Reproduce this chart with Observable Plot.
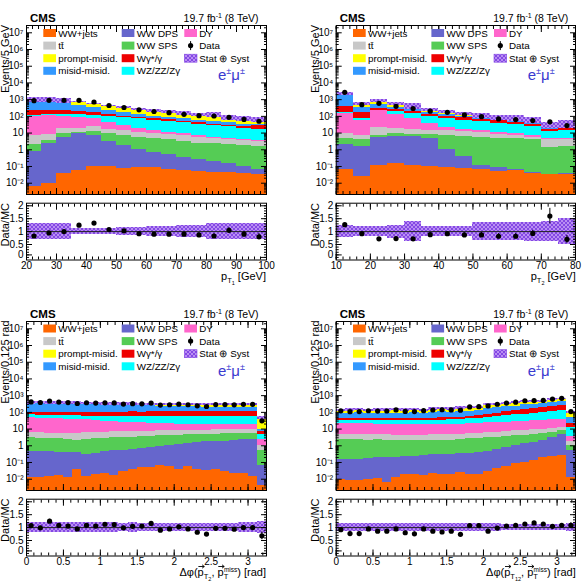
<!DOCTYPE html>
<html>
<head>
<meta charset="utf-8">
<script src="https://cdn.jsdelivr.net/npm/d3@7"></script>
<script src="https://cdn.jsdelivr.net/npm/@observablehq/plot@0.6"></script>
<style>
  body { margin: 0; background: #fff; }
  #root { position: relative; width: 588px; height: 583px; overflow: hidden; font-family: "Liberation Sans", Arial, sans-serif; }
  #root svg { position: absolute; }
</style>
</head>
<body>
<div id="root"></div>
<script>
// ---------------- categories / legend ----------------
const layerKeys   = ["wwjets", "dps", "sps", "tt", "dy", "wz", "wg", "misid", "prompt"];
const layerNames  = ["WW+jets", "WW DPS", "WW SPS", "tt\u0304", "DY", "WZ/ZZ/Z\u03b3", "W\u03b3*/\u03b3", "misid-misid.", "prompt-misid."];
const layerColors = ["#ff6600", "#6666cc", "#55cc55", "#c8c8c8", "#ff66cc", "#00ffff", "#ee0000", "#3399ff", "#ffff00"];

// ---------------- panel 1 : pT1 ----------------
const pt1Edges   = [20,25,30,35,40,45,50,55,60,65,70,75,80,85,90,95,100];
const pt1WWjets  = [0.0063,0.009,0.037,0.06,0.1,0.095,0.072,0.083,0.083,0.066,0.06,0.051,0.045,0.041,0.037,0.032];
const pt1DPS     = [0.75,2.4,5.7,10,6.6,3.1,1.7,1.0,0.6,0.47,0.28,0.22,0.15,0.11,0.07,0.035];
const pt1SPS     = [1.2,1.1,3.4,1.5,6,6,5.5,4.65,3.8,3.35,2.75,2.2,2.05,1.8,1.63,1.45];
const pt1TT      = [5.3,4.4,9.5,8.5,10.8,6.7,7.3,5.7,5.5,4.4,4.1,3.3,2.7,2.1,1.8,1.6];
const pt1DY      = [88,102,77,71,52,27,15,7.1,4.5,3.2,1.9,1.5,0.85,0.8,0.55,0.45];
const pt1WZ      = [15,16,36,41,44,53,53.5,57,45.5,35,31.6,25,21,18.5,14.5,12.3];
const pt1Wg      = [104,98,82,63,46,25,22,15,16,16,10.6,10.6,7,6,4.8,13.7];
const pt1Misid   = [676,570,361,252,189,94,61,41,29,24,25,17.5,13,11,8.6,4.4];
const pt1Prompt  = [160,160,337,277,195,203,165,137,114,99,72,66,79,42,42,31];
const pt1Data    = [870,910,910,910,725,447,339,245,195,166,132,110,105,87,66,51];
const pt1Ratio   = [0.83,0.95,1.0,1.25,1.33,1.08,1.03,0.92,0.9,0.9,0.9,0.87,0.83,1.05,0.9,0.8];
const pt1RatioErr= [0.03,0.03,0.03,0.04,0.04,0.05,0.05,0.06,0.06,0.07,0.07,0.08,0.08,0.1,0.1,0.12];
const pt1Unc     = [0.32,0.32,0.32,0.12,0.12,0.12,0.16,0.16,0.2,0.2,0.24,0.24,0.3,0.3,0.3,0.3];
const pt1Ticks   = [20,30,40,50,60,70,80,90,100];

// ---------------- panel 2 : pT2 ----------------
const pt2Edges   = [10,15,20,25,30,35,40,45,50,55,60,65,70,75,80];
const pt2WWjets  = [0.066,0.025,0.12,0.15,0.12,0.105,0.087,0.076,0.066,0.049,0.06,0.039,0.032,0.035];
const pt2DPS     = [2.1,1.6,5.5,6,5.9,4.9,0.9,0.3,0.054,0.04,0.005,0.003,0.002,0.002];
const pt2SPS     = [2.3,2.3,2,2.7,2.7,2.9,5.9,5.6,5.5,4.9,4.8,3.9,1.4,1.5];
const pt2TT      = [5,3.7,13.4,11,8.3,7.1,6.9,6.6,5.4,3.7,2.7,1.7,2.5,2.5];
const pt2DY      = [140,50,200,112,59,22,7.2,4.4,2.8,2.3,1.9,1.3,0.8,0.8];
const pt2WZ      = [10,18,10,54,69,58,55,43,35,28,24.5,18,8,9];
const pt2Wg      = [240,90,80,71,41,37,29,23,17,15,9,8,4,9];
const pt2Misid   = [1600,190,190,98,71,34,27,22,17,6,11,6,2,3];
const pt2Prompt  = [200,190,330,207,143,68,58,35,27,25,24,21,11,14];
const pt2Data    = [2750,500,600,400,295,205,175,122,96,70,64,56,47,28];
const pt2Ratio   = [1.27,0.92,0.72,0.73,0.72,0.88,0.92,0.87,0.87,0.82,0.82,0.93,1.6,0.7];
const pt2RatioErr= [0.04,0.05,0.05,0.05,0.05,0.06,0.07,0.08,0.09,0.1,0.1,0.12,0.3,0.15];
const pt2Unc     = [0.22,0.2,0.2,0.25,0.38,0.2,0.18,0.2,0.35,0.35,0.35,0.37,0.4,0.5];
const pt2Ticks   = [10,20,30,40,50,60,70,80];

// ---------------- panel 3 : dphi(pT2, MET) ----------------
const dphiEdges  = [0,0.125,0.25,0.375,0.5,0.625,0.75,0.875,1,1.125,1.25,1.375,1.5,1.625,1.75,1.875,2,2.125,2.25,2.375,2.5,2.625,2.75,2.875,3,3.125,3.25];
const dp1WWjets  = [0.012,0.013,0.014,0.016,0.012,0.037,0.014,0.019,0.021,0.016,0.03,0.037,0.047,0.047,0.066,0.06,0.037,0.06,0.037,0.034,0.037,0.03,0.021,0.023,0.014,0.0045];
const dp1DPS     = [0.45,0.42,0.44,0.4,0.36,0.34,0.3,0.35,0.42,0.48,0.5,0.6,0.66,0.75,0.9,1.0,1.2,1.4,1.5,1.7,1.8,1.9,2.1,2.3,2.4,0.06];
const dp1SPS     = [2.6,2.2,2.1,2.2,1.9,1.8,2.0,2.3,2.4,2.5,2.6,2.6,2.9,2.7,3.0,2.8,3.0,3.1,2.9,3.2,3.0,3.3,3.1,3.2,3.0,0.44];
const dp1TT      = [3.5,3.7,3.2,3.0,3.2,3.4,3.8,3.6,3.4,3.7,3.9,3.6,3.8,4.0,3.8,4.2,3.9,4.1,4.0,3.8,4.2,3.9,4.2,4.0,4.3,0.5];
const dp1DY      = [41,39,37,36,33,31,29,26,24,21,19,17.5,16,14.5,13,12.5,11.5,11,10.5,10,10,9.5,9.8,9.2,9,1.5];
const dp1WZ      = [23,22,24,23,24,25,25,27,27,29,29,31,30,33,33,34,35,34,36,35,35,36,34,36,37,2.5];
const dp1Wg      = [25,26,26,29,30,33,36,38,40,45,46,50,50,53,54,55,57,57,59,58,60,59,61,60,61,2];
const dp1Misid   = [280,285,270,268,250,238,218,206,190,182,165,158,143,136,125,117,108,105,96,93,88,85,82,79,76,3];
const dp1Prompt  = [14,16,15,18,21,24,31,34,41,44,51,54,61,64,71,74,81,84,91,94,99,102,104,107,109,35];
const dp1Data    = [421,390,472,414,385,339,376,358,371,367,314,333,326,357,273,286,310,285,247,224,292,292,282,301,302,31];
const dp1Ratio   = [1.08,0.99,1.25,1.09,1.06,0.95,1.09,1.06,1.13,1.12,0.99,1.05,1.06,1.16,0.9,0.95,1.03,0.95,0.82,0.75,0.97,0.97,0.94,1.0,1.0,0.68];
const dp1RatioErr= [0.06,0.06,0.07,0.06,0.06,0.06,0.06,0.06,0.06,0.06,0.06,0.06,0.06,0.07,0.06,0.06,0.06,0.06,0.06,0.06,0.06,0.06,0.06,0.06,0.06,0.15];
const dp1Unc     = [0.2,0.19,0.2,0.19,0.19,0.18,0.19,0.18,0.18,0.18,0.17,0.18,0.17,0.17,0.17,0.16,0.17,0.16,0.17,0.16,0.17,0.17,0.17,0.18,0.18,0.22];

// ---------------- panel 4 : dphi(pT12, MET) ----------------
const dp2WWjets  = [0.009,0.008,0.008,0.009,0.011,0.006,0.012,0.02,0.018,0.016,0.022,0.02,0.018,0.025,0.02,0.018,0.03,0.045,0.06,0.09,0.1,0.13,0.2,0.24,0.28,0.012];
const dp2DPS     = [0.15,0.14,0.15,0.17,0.18,0.18,0.2,0.22,0.2,0.25,0.28,0.27,0.3,0.3,0.35,0.4,0.45,0.55,0.7,0.9,1.2,1.5,2.0,3.0,4.5,0.5];
const dp2SPS     = [2.1,2.2,2.1,2.0,2.1,2.0,1.8,1.7,1.8,1.7,1.8,1.8,1.7,2.0,2.2,2.4,2.6,2.7,2.8,3.0,3.1,3.2,3.2,3.3,3.2,0.5];
const dp2TT      = [2.5,2.6,2.5,2.4,2.5,2.5,2.2,2.1,2.2,2.3,2.4,2.5,2.5,2.6,2.8,3.0,3.2,3.3,3.5,3.7,3.9,4.1,4.3,4.5,4.5,0.8];
const dp2DY      = [17,17,16,16,15,15,14,14,14,14,14,14,14,14,15,16,17,18,19,20,21,22,23,24,25,2];
const dp2WZ      = [12,12,12,12,12,12,13,13,14,14,15,16,17,18,20,22,25,30,35,42,50,60,70,85,100,8];
const dp2Wg      = [8,8,9,8,9,9,10,10,11,10,12,18,12,14,18,22,30,35,45,55,70,80,90,110,130,10];
const dp2Misid   = [45,48,50,45,48,50,50,48,50,45,55,55,55,60,62,62,90,100,110,115,130,125,130,180,180,30];
const dp2Prompt  = [47,53,53,46,51,50,56,52,53,46,60,64,60,73,76,74,115,121,124,132,155,132,133,185,185,51];
const dp2Data    = [123,110,112,125,120,121,140,113,111,126,138,143,139,136,212,218,243,305,360,405,495,505,520,625,690,112];
const dp2Ratio   = [0.92,0.77,0.77,0.95,0.86,0.86,0.95,0.8,0.76,0.95,0.86,0.83,0.86,0.74,1.08,1.08,0.86,0.98,1.06,1.09,1.14,1.18,1.14,1.05,1.09,1.09];
const dp2RatioErr= [0.07,0.07,0.07,0.07,0.07,0.07,0.07,0.07,0.07,0.07,0.07,0.07,0.07,0.07,0.06,0.06,0.06,0.05,0.05,0.05,0.05,0.05,0.05,0.04,0.04,0.1];
const dp2Unc     = [0.17,0.17,0.16,0.16,0.16,0.16,0.15,0.16,0.15,0.15,0.15,0.15,0.15,0.15,0.15,0.14,0.14,0.14,0.13,0.13,0.13,0.13,0.13,0.12,0.12,0.15];
const dphiTicks  = [0,0.5,1,1.5,2,2.5,3];

// ---------------- axis tick labels ----------------
const yTickVals   = [1e-2,1e-1,1,10,1e2,1e3,1e4,1e5,1e6,1e7];
const yTickLabels = ["10\u207b\u00b2","10\u207b\u00b9","1","10","10\u00b2","10\u00b3","10\u2074","10\u2075","10\u2076","10\u2077"];
const rTickVals   = [0,0.5,1,1.5,2];
const rTickLabels = ["0","0.5","1","1.5","2"];

// ---------------- layout ----------------
const FONT = "Liberation Sans, Arial, Helvetica, sans-serif";
const Y_MIN = 0.00211, Y_MAX = 2.735e7;
const COLS = [{left: 0, mL: 26, mR: 28, dx: 0}, {left: 294, mL: 41.7, mR: 13, dx: 309.7}];
const ROWS = [0, 295.5];
const root = document.getElementById("root");

// hatch pattern (Stat + Syst band)
root.insertAdjacentHTML("beforeend",
  `<svg width="0" height="0" style="left:0;top:0"><defs>
     <pattern id="hatch" width="4" height="4" patternUnits="userSpaceOnUse">
       <rect width="4" height="4" fill="#b98ef3"/>
       <path d="M0,0L4,4M4,0L0,4" stroke="#8448e4" stroke-width="1"/>
     </pattern></defs></svg>`);

const logMinor = [];
for (let k = -3; k <= 7; k++) for (let m = 2; m <= 9; m++) { const v = m * Math.pow(10, k); if (v > Y_MIN && v < Y_MAX) logMinor.push(v); }
const ratioMinor = d3.range(0, 21).map(i => i / 10);
const blank = () => "";

function yLabelAxes(yTicks, yFmt, isRatio) {
  if (!isRatio) return [Plot.axisY({ticks: yTicks, anchor: "left", tickSize: -6, tickPadding: 9, tickFormat: yFmt, label: null, fontSize: 10})];
  // the "0" label of the ratio is nudged up so it clears the first x label
  return [
    Plot.axisY({ticks: yTicks.filter(v => v !== 0), anchor: "left", tickSize: -6, tickPadding: 9, tickFormat: yFmt, label: null, fontSize: 10}),
    Plot.axisY({ticks: [0], anchor: "left", tickSize: -6, tickPadding: 9, tickFormat: yFmt, label: null, fontSize: 10, dy: -2.5})
  ];
}

function frameAxes(yTicks, yMinor, yFmt, xTicks, xMinor, xFmt, isRatio) {
  return [
    ...yLabelAxes(yTicks, yFmt, isRatio),
    Plot.axisY({ticks: yMinor, anchor: "left", tickSize: -3, tickFormat: blank, label: null}),
    Plot.axisY({ticks: yTicks, anchor: "right", tickSize: -6, tickFormat: blank, label: null}),
    Plot.axisY({ticks: yMinor, anchor: "right", tickSize: -3, tickFormat: blank, label: null}),
    Plot.axisX({ticks: xTicks, anchor: "bottom", tickSize: -6, tickPadding: 8, tickFormat: xFmt || blank, label: null, fontSize: 10}),
    Plot.axisX({ticks: xMinor, anchor: "bottom", tickSize: -3, tickFormat: blank, label: null}),
    Plot.axisX({ticks: xTicks, anchor: "top", tickSize: -6, tickFormat: blank, label: null}),
    Plot.axisX({ticks: xMinor, anchor: "top", tickSize: -3, tickFormat: blank, label: null})
  ];
}

function place(svg, left, top) {
  svg.style.position = "absolute";
  svg.style.left = left + "px";
  svg.style.top = top + "px";
  svg.style.background = "none";
  svg.style.overflow = "visible";
  root.appendChild(svg);
}

function drawPanel(p) {
  const c = COLS[p.col], top = ROWS[p.row];
  const nb = p.edges.length - 1;
  const stackRows = [], totals = [];
  for (let i = 0; i < nb; i++) {
    let cum = 0;
    p.series.forEach((s, k) => {
      stackRows.push({x1: p.edges[i], x2: p.edges[i + 1], y1: Math.max(cum, Y_MIN), y2: cum + s[i], layer: layerKeys[k]});
      cum += s[i];
    });
    totals.push(cum);
  }
  const bins = d3.range(nb).map(i => ({
    x1: p.edges[i], x2: p.edges[i + 1], xc: (p.edges[i] + p.edges[i + 1]) / 2,
    total: totals[i], unc: p.unc[i], data: p.data[i], ratio: p.ratio[i], err: p.ratioErr[i]
  }));
  const xDomain = [p.edges[0], p.edges[nb]];
  const common = {width: 294, marginLeft: c.mL, marginRight: c.mR, style: {fontFamily: FONT, fontSize: "10px", background: "none", overflow: "visible"}};

  const main = Plot.plot({
    ...common, height: 200, marginTop: 25, marginBottom: 6,
    x: {domain: xDomain, label: null},
    y: {type: "log", domain: [Y_MIN, Y_MAX], label: null},
    color: {domain: layerKeys, range: layerColors},
    marks: [
      Plot.rect(stackRows, {x1: "x1", x2: "x2", y1: "y1", y2: "y2", fill: "layer", shapeRendering: "crispEdges"}),
      Plot.rect(bins, {x1: "x1", x2: "x2", y1: d => d.total * (1 - d.unc), y2: d => d.total * (1 + d.unc), fill: "url(#hatch)", shapeRendering: "crispEdges"}),
      Plot.dot(bins, {x: "xc", y: "data", r: 2.6, fill: "black"}),
      Plot.frame({stroke: "black"}),
      ...frameAxes(yTickVals, logMinor, d => yTickLabels[yTickVals.indexOf(d)], p.xTicks, p.xMinor, null, false)
    ]
  });
  place(main, c.left, top);

  const ratio = Plot.plot({
    ...common, height: 95, marginTop: 7.7, marginBottom: 30.5,
    x: {domain: xDomain, label: null},
    y: {domain: [-0.1, 2.1], label: null},
    marks: [
      Plot.rect(bins, {x1: "x1", x2: "x2", y1: d => 1 - d.unc, y2: d => 1 + d.unc, fill: "url(#hatch)", shapeRendering: "crispEdges"}),
      Plot.ruleY([1], {stroke: "#222", strokeWidth: 1}),
      Plot.ruleX(bins, {x: "xc", y1: d => d.ratio - d.err, y2: d => d.ratio + d.err, stroke: "black", strokeWidth: 1}),
      Plot.dot(bins, {x: "xc", y: "ratio", r: 2.6, fill: "black"}),
      Plot.frame({stroke: "black"}),
      ...frameAxes(rTickVals, ratioMinor, d => rTickLabels[rTickVals.indexOf(d)], p.xTicks, p.xMinor, p.xFmt, true)
    ]
  });
  place(ratio, c.left, top + 195);
}

// x-axis titles: [text, fontSize, baselineOffset, dx, hasVectorArrow]
const dphiTitle = sub => [
  ["\u0394\u03c6(", 11, 0], ["p", 11, 0, 0, true], ["T", 7.5, 3], [sub, 5.5, 5],
  [", ", 11, 0], ["p", 11, 0, 0, true], ["T", 7.5, 3], ["miss", 6.5, -4, -4.3], [") [rad]", 11, 0]
];

const panels = [
  {col: 0, row: 0, edges: pt1Edges, series: [pt1WWjets, pt1DPS, pt1SPS, pt1TT, pt1DY, pt1WZ, pt1Wg, pt1Misid, pt1Prompt],
   data: pt1Data, ratio: pt1Ratio, ratioErr: pt1RatioErr, unc: pt1Unc, xTicks: pt1Ticks, xMinor: d3.range(20, 101, 2), xFmt: d => String(d),
   yTitle: "Events/5 GeV",
   xTitle: [["p", 11, 0], ["T", 7.5, 3], ["1", 5.5, 5], [" [GeV]", 11, 0]]},
  {col: 1, row: 0, edges: pt2Edges, series: [pt2WWjets, pt2DPS, pt2SPS, pt2TT, pt2DY, pt2WZ, pt2Wg, pt2Misid, pt2Prompt],
   data: pt2Data, ratio: pt2Ratio, ratioErr: pt2RatioErr, unc: pt2Unc, xTicks: pt2Ticks, xMinor: d3.range(10, 81, 2), xFmt: d => String(d),
   yTitle: "Events/5 GeV",
   xTitle: [["p", 11, 0], ["T", 7.5, 3], ["2", 5.5, 5], [" [GeV]", 11, 0]]},
  {col: 0, row: 1, edges: dphiEdges, series: [dp1WWjets, dp1DPS, dp1SPS, dp1TT, dp1DY, dp1WZ, dp1Wg, dp1Misid, dp1Prompt],
   data: dp1Data, ratio: dp1Ratio, ratioErr: dp1RatioErr, unc: dp1Unc, xTicks: dphiTicks, xMinor: d3.range(0, 33).map(i => i / 10), xFmt: d => String(d),
   yTitle: "Events/0.125 rad", xTitle: dphiTitle("2")},
  {col: 1, row: 1, edges: dphiEdges, series: [dp2WWjets, dp2DPS, dp2SPS, dp2TT, dp2DY, dp2WZ, dp2Wg, dp2Misid, dp2Prompt],
   data: dp2Data, ratio: dp2Ratio, ratioErr: dp2RatioErr, unc: dp2Unc, xTicks: dphiTicks, xMinor: d3.range(0, 33).map(i => i / 10), xFmt: d => String(d),
   yTitle: "Events/0.125 rad", xTitle: dphiTitle("12")}
];

panels.forEach(drawPanel);

// ---------------- overlay text & legends ----------------
const ov = d3.select(root).append("svg")
  .attr("width", 588).attr("height", 583)
  .style("left", "0px").style("top", "0px")
  .attr("font-family", FONT);

function rich(sel, x, y, parts, {anchor = "start", rotate = 0, fill = "black", weight = "normal"} = {}) {
  const g = sel.append("g").attr("transform", `translate(${x},${y}) rotate(${rotate})`);
  const t = g.append("text").attr("text-anchor", anchor).attr("fill", fill).attr("font-weight", weight);
  let cur = 0;
  const vecs = [];
  for (const [s, size, off = 0, dx = 0, vec = false] of parts) {
    const ts = t.append("tspan").attr("font-size", size).attr("dy", off - cur).attr("dx", dx).text(s);
    if (vec) vecs.push({node: ts.node(), off});
    cur = off;
  }
  // arrows over vector symbols
  for (const v of vecs) {
    const x0 = v.node.getStartPositionOfChar(0).x;
    const w = v.node.getComputedTextLength();
    const yA = v.off - 9;
    g.append("path")
      .attr("d", `M${x0 + 0.8},${yA}H${x0 + w + 0.6}M${x0 + w - 1.6},${yA - 1.7}L${x0 + w + 0.6},${yA}L${x0 + w - 1.6},${yA + 1.7}`)
      .attr("fill", "none").attr("stroke", fill).attr("stroke-width", 0.9);
  }
  return g;
}

const legendCols = [
  [0, 3, 8, 7],   // WW+jets, tt, prompt-misid, misid-misid
  [1, 2, 6, 5],   // WW DPS, WW SPS, Wg, WZ
  [4, "data", "unc"]
];
const legSwX = [43.3, 121.7, 184.3];
const legTxX = [58.3, 136.7, 199.3];
const legRowY = [33, 45.6, 58.2, 70.8];

panels.forEach(p => {
  const dx = COLS[p.col].dx, dy = ROWS[p.row];
  const g = ov.append("g");
  rich(g, 30 + dx, 22 + dy, [["CMS", 11.5, 0]], {weight: "bold"});
  rich(g, 258.5 + dx, 22 + dy, [["19.7 fb", 10.5, 0], ["-1", 7, -4], [" (8 TeV)", 10.5, 0]], {anchor: "end"});
  rich(g, 218 + dx, 80 + dy, [["e", 15, 0], ["\u00b1", 9, -6], ["\u03bc", 15, 0], ["\u00b1", 9, -6]], {fill: "#3a3ad0"});
  rich(g, 9 + dx, 25 + dy, [[p.yTitle, 11, 0]], {anchor: "end", rotate: -90});
  rich(g, 9 + dx, 203 + dy, [["Data/MC", 11, 0]], {anchor: "end", rotate: -90});
  rich(g, 266 + dx, 280 + dy, p.xTitle, {anchor: "end"});

  legendCols.forEach((col, ci) => {
    col.forEach((item, ri) => {
      const cy = legRowY[ri] + dy, sx = legSwX[ci] + dx;
      let label;
      if (item === "data") {
        g.append("line").attr("x1", sx + 6.3).attr("x2", sx + 6.3).attr("y1", cy - 4.5).attr("y2", cy + 4.5).attr("stroke", "black");
        g.append("circle").attr("cx", sx + 6.3).attr("cy", cy).attr("r", 2.6).attr("fill", "black");
        label = "Data";
      } else if (item === "unc") {
        g.append("rect").attr("x", sx).attr("y", cy - 4).attr("width", 12.7).attr("height", 8).attr("fill", "url(#hatch)").attr("stroke", "#8448e4").attr("stroke-width", 0.6);
        label = "Stat \u2295 Syst";
      } else {
        g.append("rect").attr("x", sx).attr("y", cy - 4).attr("width", 12.7).attr("height", 8).attr("fill", layerColors[item]);
        label = layerNames[item];
      }
      g.append("text").attr("x", legTxX[ci] + dx).attr("y", cy + 3.6).attr("font-size", 9.8).text(label);
    });
  });
});
</script>
</body>
</html>
